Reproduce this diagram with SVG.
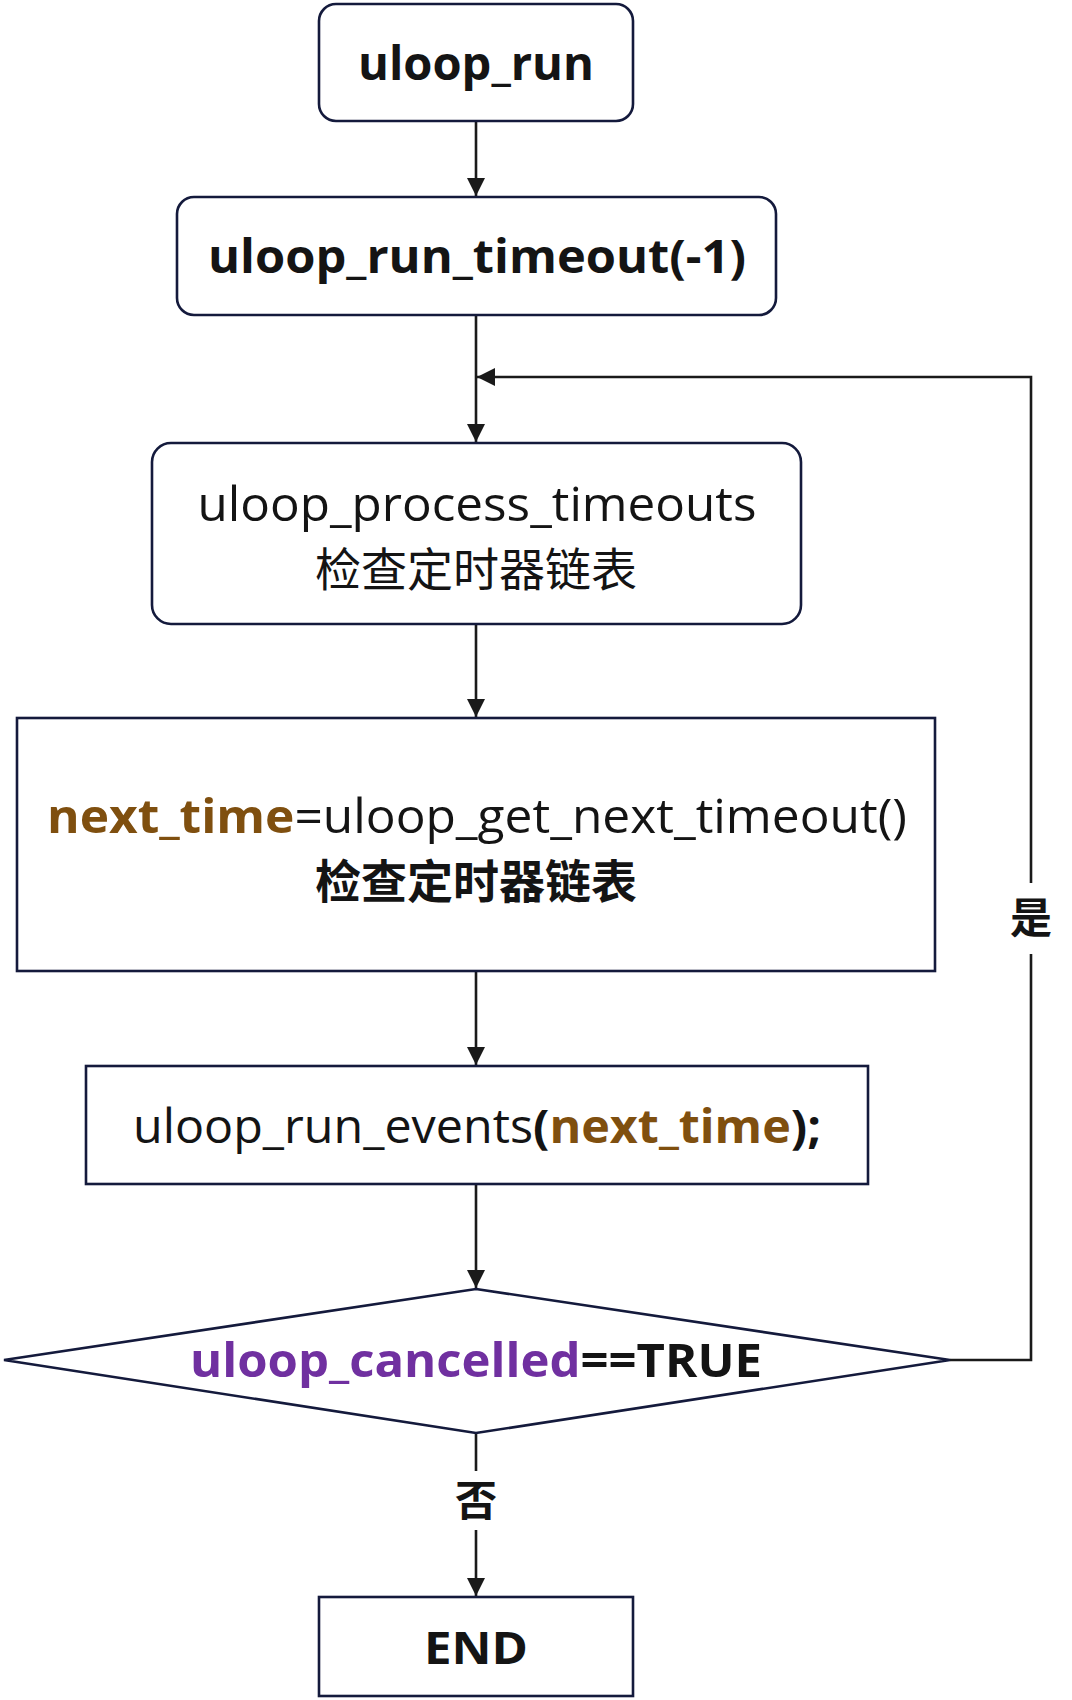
<svg xmlns="http://www.w3.org/2000/svg" width="1072" height="1700" viewBox="0 0 1072 1700">
<style>
.box{fill:#fff;stroke:#141a3c;stroke-width:2.6}
.ln{fill:none;stroke:#1a1a1a;stroke-width:2.6}
text{font-family:"Open Sans","Noto Sans CJK SC",sans-serif;fill:#141414;text-anchor:middle}
.b{font-weight:bold}
.br{fill:#7f4f0f;font-weight:bold}
.pu{fill:#7030a0;font-weight:bold}
.cjk{font-family:"Noto Sans CJK SC",sans-serif}
</style>
<defs>
<marker id="ah" viewBox="0 0 10 10" refX="10" refY="5" markerWidth="7" markerHeight="7" orient="auto" markerUnits="strokeWidth">
<path d="M0,0 L10,5 L0,10 z" fill="#1a1a1a"/>
</marker>
</defs>
<g id="connectors">
<line class="ln" x1="476" y1="121" x2="476" y2="196" marker-end="url(#ah)"/>
<line class="ln" x1="476" y1="316" x2="476" y2="442" marker-end="url(#ah)"/>
<line class="ln" x1="476" y1="625" x2="476" y2="717" marker-end="url(#ah)"/>
<line class="ln" x1="476" y1="972" x2="476" y2="1065" marker-end="url(#ah)"/>
<line class="ln" x1="476" y1="1185" x2="476" y2="1288" marker-end="url(#ah)"/>
<line class="ln" x1="476" y1="1433" x2="476" y2="1471"/>
<line class="ln" x1="476" y1="1530" x2="476" y2="1596" marker-end="url(#ah)"/>
<polyline class="ln" points="950,1360 1031,1360 1031,954"/>
<polyline class="ln" points="1031,883 1031,377 477,377" marker-end="url(#ah)"/>
<text class="b cjk" x="1031" y="933" font-size="42">是</text>
<text class="b cjk" x="476" y="1516" font-size="42">否</text>
</g>
<g id="n1">
<rect class="box" x="319" y="4" width="314" height="117" rx="17"/>
<text class="b" x="476" y="80" font-size="47" textLength="236" lengthAdjust="spacingAndGlyphs">uloop_run</text>
</g>
<g id="n2">
<rect class="box" x="177" y="197" width="599" height="118" rx="17"/>
<text class="b" x="477" y="273" font-size="47" textLength="538" lengthAdjust="spacingAndGlyphs">uloop_run_timeout(-1)</text>
</g>
<g id="n3">
<rect class="box" x="152" y="443" width="649" height="181" rx="19"/>
<text x="477" y="521" font-size="47" textLength="559" lengthAdjust="spacingAndGlyphs">uloop_process_timeouts</text>
<text class="cjk" x="476" y="586" font-size="46">检查定时器链表</text>
</g>
<g id="n4">
<rect class="box" x="17" y="718" width="918" height="253"/>
<text x="477" y="833" font-size="47" textLength="860" lengthAdjust="spacingAndGlyphs"><tspan class="br">next_time</tspan>=uloop_get_next_timeout()</text>
<text class="b cjk" x="476" y="898" font-size="46">检查定时器链表</text>
</g>
<g id="n5">
<rect class="box" x="86" y="1066" width="782" height="118"/>
<text x="477" y="1143" font-size="47" textLength="688" lengthAdjust="spacingAndGlyphs">uloop_run_events<tspan class="b">(</tspan><tspan class="br">next_time</tspan><tspan class="b">);</tspan></text>
</g>
<g id="n6">
<polygon class="box" points="476,1289 950,1360 476,1433 4,1360"/>
<text class="b" x="476" y="1377" font-size="47" textLength="572" lengthAdjust="spacingAndGlyphs"><tspan class="pu">uloop_cancelled</tspan>==TRUE</text>
</g>
<g id="n7">
<rect class="box" x="319" y="1597" width="314" height="99"/>
<text class="b" x="476" y="1664" font-size="45" textLength="104" lengthAdjust="spacingAndGlyphs">END</text>
</g>
</svg>
